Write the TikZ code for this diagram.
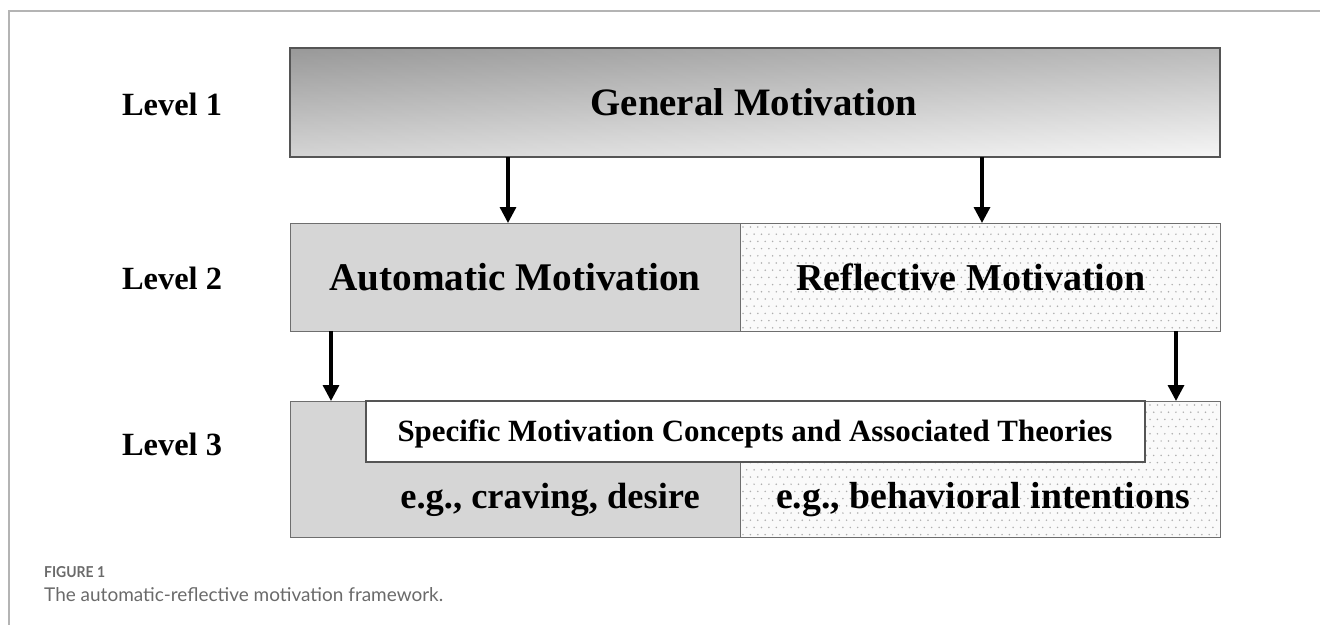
\documentclass[tikz,border=0pt]{standalone}
\usepackage{fontspec}
\setmainfont{Liberation Serif}
\newfontfamily\capfont{Lato}
\usetikzlibrary{arrows.meta}

\definecolor{framegray}{HTML}{B4B4B4}
\definecolor{edgedark}{HTML}{555555}
\definecolor{edgemid}{HTML}{6E6E6E}
\definecolor{autogray}{HTML}{D6D6D6}
\definecolor{reflgray}{HTML}{FAFAFA}
\definecolor{dotgray}{HTML}{AEAEAE}
\definecolor{capgray}{HTML}{6A6A6A}

\tikzset{
  boxbase/.style={rectangle, outer sep=0pt, inner sep=0pt, anchor=north west},
  autobox/.style={boxbase, fill=autogray, draw=edgemid, line width=1pt},
  reflbox/.style={boxbase, fill=reflgray, draw=edgemid, line width=1pt},
  levellabel/.style={font=\fontsize{32.4}{36}\selectfont\bfseries, anchor=base},
  flow/.style={line width=3.3pt, -{Triangle[length=16pt,width=16pt]}},
}

\begin{document}
\begin{tikzpicture}[x=1pt,y=-1pt]
\useasboundingbox (0,0) rectangle (1320,625);

% outer frame (top and left rules)
\draw[framegray, line width=1.2pt] (1320,11) -- (9,11) -- (9,625);

% ---- Level 1: general motivation, shaded bar ----
\node[boxbase, minimum width=930pt, minimum height=109pt,
      top color=gray!62, bottom color=gray!8] (gm) at (290,48) {};
\shade[left color=black, right color=white, opacity=0.13]
  (gm.north west) rectangle (gm.south east);
\draw[edgedark, line width=1.6pt] (gm.north west) rectangle (gm.south east);
\node[font=\fontsize{38.8}{44}\selectfont\bfseries, anchor=base] (gmt) at (754,115) {General Motivation};

% ---- Level 2: automatic / reflective halves ----
\node[autobox, minimum width=450pt, minimum height=108pt] (am) at (290,223) {};
\node[reflbox, minimum width=480pt, minimum height=108pt] (rm) at (740,223) {};

% ---- Level 3: automatic / reflective halves ----
\node[autobox, minimum width=450pt, minimum height=136pt] (ac) at (290,401) {};
\node[reflbox, minimum width=480pt, minimum height=136pt] (rc) at (740,401) {};

% dot texture on the reflective halves
\begin{scope}
  \clip (741,224) rectangle (1219,330);
  \foreach \r in {0,...,15} {
    \foreach \c in {0,...,65} {
      \fill[dotgray] ({743+\c*7.4+mod(\r,2)*3.7},{227+\r*7.2}) circle (0.85);
    }
  }
\end{scope}
\begin{scope}
  \clip (741,402) rectangle (1219,536);
  \foreach \r in {0,...,19} {
    \foreach \c in {0,...,65} {
      \fill[dotgray] ({743+\c*7.4+mod(\r,2)*3.7},{405+\r*7.2}) circle (0.85);
    }
  }
\end{scope}

% specific concepts banner across level 3
\node[boxbase, fill=white, draw=edgedark, line width=1.3pt,
      minimum width=779pt, minimum height=61pt] (sc) at (366,401) {};

% ---- texts ----
\node[levellabel] (l1) at (172,115) {Level 1};
\node[levellabel] (l2) at (172,289) {Level 2};
\node[levellabel] (l3) at (172,455) {Level 3};

\node[font=\fontsize{39.2}{44}\selectfont\bfseries, anchor=base] (amt) at (515,290) {Automatic Motivation};
\node[font=\fontsize{38}{44}\selectfont\bfseries, anchor=base] (rmt) at (971,290) {Reflective Motivation};

\node[font=\fontsize{30.9}{34}\selectfont\bfseries, anchor=base] (sct) at (755,441)
  {Specific Motivation Concepts and Associated Theories};
\node[font=\fontsize{36.5}{40}\selectfont\bfseries, anchor=base] (act) at (550,508)
  {e.g., craving, desire};
\node[font=\fontsize{37.7}{42}\selectfont\bfseries, anchor=base] (rct) at (983,508)
  {e.g., behavioral intentions};

% ---- connectors ----
\draw[flow] ([xshift=218pt]gm.south west) -- ([xshift=218pt]am.north west);
\draw[flow] ([xshift=692pt]gm.south west) -- ([xshift=242pt]rm.north west);
\draw[flow] ([xshift=41pt]am.south west) -- ([xshift=41pt]ac.north west);
\draw[flow] ([xshift=-44pt]rm.south east) -- ([xshift=-44pt]rc.north east);

% ---- caption, each line stretched to its set width ----
\node[text=capgray, anchor=base west, inner sep=0pt] (figno) at (44,577)
  {\resizebox{61pt}{11pt}{\capfont\bfseries FIGURE 1}};
\node[text=capgray, anchor=base west, inner sep=0pt] (cap) at (44,601)
  {\resizebox{399pt}{!}{\capfont\fontsize{23}{27}\selectfont The automatic-reflective motivation framework.}};
\end{tikzpicture}
\end{document}
